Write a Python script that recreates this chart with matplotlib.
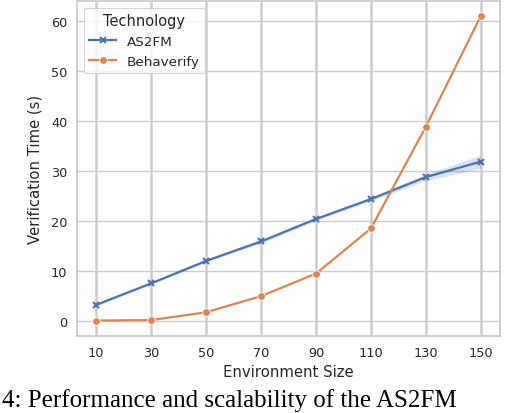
import matplotlib
matplotlib.use("Agg")
import matplotlib.pyplot as plt

env_sizes = [10, 30, 50, 70, 90, 110, 130, 150]
as2fm_mean = [3.2, 7.5, 12.0, 15.9, 20.4, 24.4, 28.8, 31.9]
as2fm_low = [3.0, 7.3, 11.8, 15.5, 20.1, 24.0, 28.1, 30.5]
as2fm_high = [3.4, 7.7, 12.2, 16.3, 20.7, 24.8, 29.4, 33.2]
behaverify = [0.05, 0.15, 1.7, 4.95, 9.45, 18.5, 38.9, 61.1]

tick_labels = [str(v) for v in env_sizes]

blue = "#4c72b0"
orange = "#dd8452"

fig = plt.figure(figsize=(5.26, 4.14), dpi=100)
ax = fig.add_axes([77/526, 1 - 337/414, (500-77)/526, (337-2)/414])

ax.set_axisbelow(True)
ax.grid(axis="x", color="#cccccc", linewidth=1.8)
ax.grid(axis="y", color="#cccccc", linewidth=1.0)
for s in ax.spines.values():
    s.set_color("#cccccc")
    s.set_linewidth(1.3)

ax.fill_between(env_sizes, as2fm_low, as2fm_high, color=blue, alpha=0.2, linewidth=0)
ax.plot(env_sizes, as2fm_mean, color=blue, marker="x", markersize=4.5,
        markeredgewidth=1.5, linewidth=1.6, label="AS2FM")
ax.plot(env_sizes, behaverify, color=orange, marker="o", markersize=5.5,
        markeredgecolor="white", markeredgewidth=0.6, linewidth=1.6, label="Behaverify")

ax.set_xticks(env_sizes)
ax.set_xticklabels(tick_labels)
ax.set_yticks([0, 10, 20, 30, 40, 50, 60])
ax.tick_params(axis="both", labelsize=9.3, length=0, pad=7, labelcolor="#262626")
ax.set_xlabel("Environment Size", fontsize=10.7, color="#262626", labelpad=4)
ax.set_ylabel("Verification Time (s)", fontsize=10.7, color="#262626", labelpad=6)
ax.set_xlim(3, 157)
ax.set_ylim(-3.05, 64.1)

leg = ax.legend(title="Technology", loc="upper left", fontsize=9.7,
                title_fontsize=10.5, frameon=True, framealpha=0.8,
                edgecolor="#cccccc", fancybox=True, borderaxespad=0.5)
leg.get_frame().set_linewidth(0.8)
for t in leg.get_texts():
    t.set_color("#262626")
leg.get_title().set_color("#262626")

fig.text(0.004, 0.006, "4: Performance and scalability of the AS2FM",
         fontsize=18, family="Liberation Serif", va="bottom", ha="left", color="black")

fig.savefig("out.png", dpi=100)
